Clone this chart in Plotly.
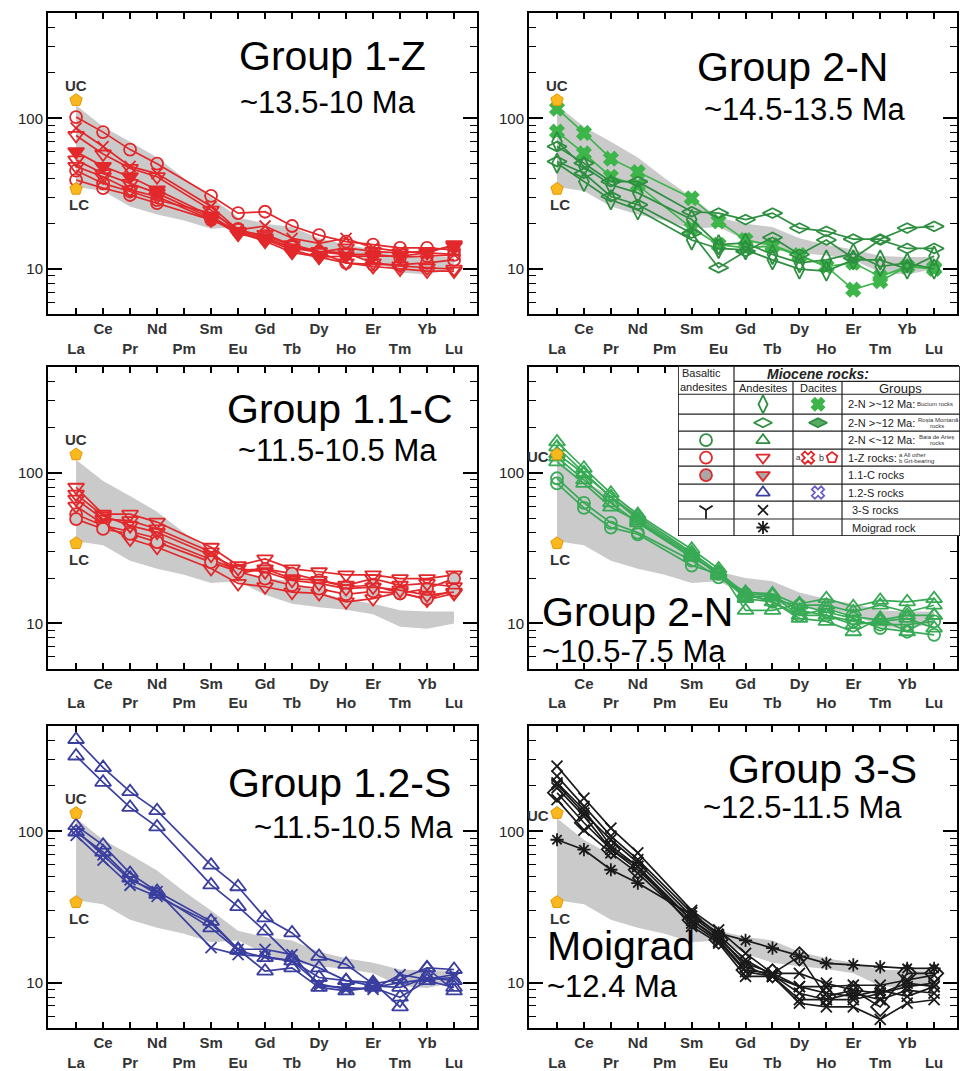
import math
import plotly.graph_objects as go

W, H = 960, 1071
FONT = "Liberation Sans"

elements = ["La", "Ce", "Pr", "Nd", "Pm", "Sm", "Eu", "Gd", "Tb", "Dy", "Ho", "Er", "Tm", "Yb", "Lu"]
idx = list(range(len(elements)))
N = None  # Pm not analysed

# Gray reference field
band_upper = [122, 88, 70, 55, 40, 30, 22, 20, 19, 16, 14.5, 13.5, 12.2, 12, 12]
band_lower = [35, 33, 26, 23, 21, 18.5, 19, 15.5, 13.5, 12.8, 12.3, 11.5, 9.5, 9.2, 10]
UC_val, LC_val = 132, 34

# ---------- Group 1-Z (red) ----------
g1z_values = [
    [102, 81, 62, 50, N, 30.6, 23.5, 24, 19.3, 16.8, 15.2, 14.5, 13.8, 13.8, 13.4],
    [86, 65, 48, 43, N, 26, 18.2, 19.3, 16, 14.8, 16, 13.8, 13.1, 12.8, 12.5],
    [77, 58, 46.6, 41, N, 24.6, 17.5, 17, 14.5, 13.1, 12.8, 11, 10.5, 10.2, 10],
    [60, 48, 41, 33.5, N, 22.5, 17.5, 15.3, 12.9, 12, 12.2, 12.2, 12.2, 12.8, 14.5],
    [53, 43, 37, 31.9, N, 21.8, 17, 16.1, 13.8, 12.9, 13.8, 13.1, 12.8, 13.1, 14.2],
    [39, 34.4, 31, 27.4, N, 21.2, 18.2, 16.5, 14.4, 12.9, 11, 10.7, 10.7, 11, 11.5],
    [48, 41, 33.5, 30.3, N, 21.2, 17.8, 15.7, 13.4, 12, 11, 10.4, 10, 9.7, 9.7],
    [45, 37, 32.7, 28.7, N, 23.5, 18.5, 16, 14, 13, 12.5, 12.5, 12, 12.2, 12.4],
]
g1z_symbols = ["circle-open", "x-thin-open", "triangle-down-open", "triangle-down",
               "triangle-down-open", "circle-open", "triangle-down-open", "circle-open"]

# ---------- Group 2-N old (green) ----------
g2n_old_values = [
    [116, 80, 54, 44, N, 29.5, 20.7, 15.6, 14.4, 12.4, 10.4, 7.3, 8.3, 10.4, 10.2],
    [81.6, 58.6, 41, 36, N, 18.7, 14.5, 13.8, 14.2, 12.2, 10.4, 11, 8.9, 10.4, 10],
    [65, 50.4, 38, 38, N, 24, 23.5, 21.3, 23.5, 18.7, 17.8, 15.8, 15.8, 18.7, 19.2],
    [51.7, 43.2, 30.3, 26.7, N, 17.3, 10.2, 13.1, 16.2, 12.5, 15.6, 11.8, 15.6, 13.7, 13.7],
    [50.4, 38, 28.8, 24.7, N, 15.6, 13.7, 13.4, 11.5, 10, 9.7, 11.5, 11.5, 10, 12.2],
    [70, 47.9, 36.2, 32, N, 21.3, 14.5, 14.9, 12.5, 11, 11.5, 12.7, 10.4, 11, 10],
]
g2n_old_symbols = ["x", "x", "diamond-wide-open", "diamond-wide-open",
                   "diamond-tall-open", "diamond-tall-open"]

# ---------- Group 1.1-C (red, gray-filled) ----------
g11c_values = [
    [80, 53, 53, 47, N, 32, 24.2, 26.8, 23, 22, 21, 21, 19.8, 19.8, 21],
    [53, 44.5, 40.7, 36.7, N, 26.5, 22.5, 23, 21.4, 19.3, 17.5, 17.9, 15.8, 17, 19.8],
    [66.7, 49.2, 48, 42.3, N, 29.8, 21.4, 23, 19.8, 19.3, 17.9, 19.8, 17.9, 18.4, 17.5],
    [60, 45.6, 36.3, 32, N, 23.1, 18.4, 17.5, 16.1, 15.8, 13.9, 14.6, 16.1, 14.3, 15.8],
    [49.2, 42.3, 39.3, 34.6, N, 25.5, 22, 19.8, 17.9, 17, 15.6, 16.3, 15.8, 14.6, 16.6],
    [72, 51.8, 44.5, 40.2, N, 28.3, 23.1, 22, 19.3, 18.4, 17, 17.4, 16.6, 15.4, 16.1],
]
g11c_symbols = ["triangle-down-open", "circle", "triangle-down-open",
                "triangle-down-open", "circle", "triangle-down-open"]

# ---------- Group 2-N young (green) ----------
g2n_young_values = [
    [160, 107, 73, 52.7, N, 31, 23, 12.2, 12.2, 13.5, 14.6, 12.9, 14.2, 13.9, 14.6],
    [134, 98, 69, 49, N, 28.8, 20.8, 16.1, 15.7, 13.2, 13.2, 11.9, 13.2, 11.9, 13.2],
    [91.8, 63, 46.5, 40, N, 26.1, 20.2, 15.3, 14.2, 13.2, 11.9, 10.8, 9.3, 8.8, 8.4],
    [85, 58.4, 43.2, 39, N, 24.2, 21.3, 15.7, 13.9, 11.3, 11.3, 10.3, 9.8, 9.8, 10.3],
    [118, 85, 59, 47.6, N, 28, 21.3, 14.6, 13.9, 10.8, 10.3, 8.8, 10.8, 8.8, 11.3],
    [127, 89.5, 63, 46.5, N, 27.4, 21.9, 14.9, 15.3, 11.3, 12.5, 11.1, 10.5, 11.3, 11.3],
    [148, 100, 69, 51, N, 29.5, 21.9, 15.7, 15.3, 12.2, 11.3, 9.8, 10.3, 10.8, 9.3],
]
g2n_young_symbols = ["triangle-up-open", "triangle-up-open", "circle-open", "circle-open",
                     "triangle-up-open", "triangle-up-open", "triangle-up-open"]

# ---------- Group 1.2-S (blue) ----------
g12s_values = [
    [405, 264, 183, 137, N, 59.8, 43, 26.8, 21.3, 14.9, 13.2, 9.8, 10.5, 12.5, 12.2],
    [315, 211, 144, 107, N, 44.2, 31.8, 21.9, 14.6, 12.5, 10.3, 10, 6.9, 12.5, 8.8],
    [109, 81, 52.7, 40, N, 25.4, 16.6, 11.9, 12.5, 9.3, 8.8, 9.3, 8.0, 10.3, 9.3],
    [94, 64.6, 44, 37.1, N, 24.7, 16.6, 16.6, 15.3, 9.5, 9.3, 9.0, 11.3, 10.5, 10.8],
    [101.5, 70, 47.7, 40, N, 17, 15.3, 14.9, 13.9, 9.8, 9.0, 9.3, 10, 10.5, 11.3],
    [99, 73, 49, 38.3, N, 23, 16.3, 14.6, 13.9, 10.8, 10.3, 9.5, 9.3, 10.8, 10.3],
]
g12s_symbols = ["triangle-up-open", "triangle-up-open", "triangle-up-open",
                "x-thin-open", "x-thin-open", "triangle-up-open"]

# ---------- Group 3-S and Moigrad (black) ----------
g3s_values = [
    [270, 166, 105, 72, N, 30, 22.3, 15.6, 11.5, 9.4, 9.4, 9.6, 9.6, 10.4, 11.2],
    [232, 146, 93, 65, N, 29, 20.7, 14.1, 11.2, 8.5, 7.7, 8.5, 7.7, 8.9, 8.5],
    [204, 132, 88, 62, N, 27.4, 20.2, 12.7, 11, 7.3, 6.9, 6.9, 5.7, 7.3, 7.7],
    [180, 114, 76, 55.7, N, 25.9, 19.2, 12.1, 11.5, 14.9, 8.1, 8.9, 6.9, 11.5, 11.5],
    [162, 102, 72, 53, N, 24.7, 18.7, 11.8, 11, 9.4, 8.5, 8.1, 8.9, 8.1, 9.4],
    [209, 139, 80, 58.7, N, 25.9, 19.6, 13.4, 11.5, 11.5, 9.9, 8.9, 8.5, 9.4, 9.9],
    [194, 126, 76, 58.7, N, 23.5, 18.2, 11, 11, 7.7, 7.7, 7.7, 8.5, 9.9, 9.4],
    [88, 75.6, 55.7, 45.5, N, 28, 21.2, 19, 16.9, 14.9, 13.4, 13.1, 12.7, 12.4, 12.4],
]
g3s_symbols = ["x-thin-open", "x-thin-open", "x-thin-open", "diamond-open",
               "x-thin-open", "x-thin-open", "x-thin-open", "asterisk-open"]

RED = "#E2282B"
GREEN_D = "#2E8F40"
GREEN_X = "#3DB54A"
GREEN_Y = "#38AA55"
BLUE = "#3A3E9E"
BLACK = "#1A1A1A"
BAND = "#CACACA"

panels = [
    dict(row=0, col=0, values=g1z_values, symbols=g1z_symbols, color=RED,
         title="Group 1-Z", sub="~13.5-10 Ma", tpos=(332, 56), spos=(328, 103), uc="above"),
    dict(row=0, col=1, values=g2n_old_values, symbols=g2n_old_symbols, color=GREEN_D,
         title="Group 2-N", sub="~14.5-13.5 Ma", tpos=(792, 67), spos=(805, 110), uc="above"),
    dict(row=1, col=0, values=g11c_values, symbols=g11c_symbols, color=RED,
         title="Group 1.1-C", sub="~11.5-10.5 Ma", tpos=(340, 410), spos=(337, 451), uc="above"),
    dict(row=1, col=1, values=g2n_young_values, symbols=g2n_young_symbols, color=GREEN_Y,
         title="Group 2-N", sub="~10.5-7.5 Ma", tpos=(637, 613), spos=(634, 653), uc="left"),
    dict(row=2, col=0, values=g12s_values, symbols=g12s_symbols, color=BLUE,
         title="Group 1.2-S", sub="~11.5-10.5 Ma", tpos=(339, 784), spos=(353, 829), uc="above"),
    dict(row=2, col=1, values=g3s_values, symbols=g3s_symbols, color=BLACK,
         title="Group 3-S", sub="~12.5-11.5 Ma", tpos=(822, 770), spos=(802, 809), uc="left"),
]

col_dom = [[48 / W, 477 / W], [529 / W, 957 / W]]
row_dom = [[1 - 315 / H, 1 - 13 / H], [1 - 670 / H, 1 - 368 / H], [1 - 1030 / H, 1 - 727 / H]]

ticktext = []
for i, e in enumerate(elements):
    ticktext.append("\u00a0<br><b>" + e + "</b>" if i % 2 == 0 else "<b>" + e + "</b>")

minor_vals = [6, 7, 8, 9, 20, 30, 40, 50, 60, 70, 80, 90, 200, 300, 400]

fig = go.Figure()
layout = dict(width=W, height=H, margin=dict(l=0, r=0, t=0, b=0),
              paper_bgcolor="white", plot_bgcolor="white", showlegend=False)
annotations = []
shapes = []


def mk_size(sym):
    if sym.startswith("circle"):
        return 12
    if sym.startswith("triangle"):
        return 14
    if sym.startswith("diamond"):
        return 14
    if sym == "x":
        return 12
    return 11


for pi, p in enumerate(panels, start=1):
    xa = "x" if pi == 1 else f"x{pi}"
    ya = "y" if pi == 1 else f"y{pi}"
    xk = "xaxis" if pi == 1 else f"xaxis{pi}"
    yk = "yaxis" if pi == 1 else f"yaxis{pi}"
    layout[xk] = dict(domain=col_dom[p["col"]], anchor=ya, range=[-1.04, 14.85],
                      tickmode="array", tickvals=idx, ticktext=ticktext,
                      ticks="inside", ticklen=6, tickwidth=1.5, tickcolor="black",
                      mirror="allticks", showline=True, linewidth=2, linecolor="black",
                      showgrid=False, zeroline=False,
                      tickfont=dict(family=FONT, size=15, color="#333"))
    layout[yk] = dict(domain=row_dom[p["row"]], anchor=xa, type="log",
                      range=[math.log10(5), math.log10(500)],
                      tickmode="array", tickvals=[10, 100], ticktext=["10", "100"],
                      ticks="inside", ticklen=14, tickwidth=1.5, tickcolor="black",
                      minor=dict(tickmode="array", tickvals=minor_vals, ticks="inside",
                                 ticklen=7, tickwidth=1.2, tickcolor="black"),
                      mirror="allticks", showline=True, linewidth=2, linecolor="black",
                      showgrid=False, zeroline=False,
                      tickfont=dict(family=FONT, size=15, color="#222"))
    # gray field
    fig.add_trace(go.Scatter(x=idx + idx[::-1], y=band_upper + band_lower[::-1],
                             fill="toself", fillcolor=BAND, mode="lines",
                             line=dict(width=0, color=BAND), xaxis=xa, yaxis=ya,
                             hoverinfo="skip"))
    # series
    for vals, sym in zip(p["values"], p["symbols"]):
        col = p["color"]
        lcol = col
        if pi == 2 and sym == "x":
            col = GREEN_X
            lcol = GREEN_X
        marker = dict(symbol=sym, size=mk_size(sym), color=col,
                      line=dict(color=col, width=1.8))
        if sym in ("circle", "triangle-down") and pi == 3:
            marker = dict(symbol=sym, size=mk_size(sym), color="#C8C8C8",
                          line=dict(color=RED, width=1.8))
        fig.add_trace(go.Scatter(x=idx, y=vals, mode="lines+markers", connectgaps=True,
                                 line=dict(color=lcol, width=1.7), marker=marker,
                                 xaxis=xa, yaxis=ya))
    # UC / LC
    fig.add_trace(go.Scatter(x=[0, 0], y=[UC_val, LC_val], mode="markers",
                             marker=dict(symbol="pentagon", size=13, color="#F9B81E",
                                         line=dict(color="#E89600", width=1)),
                             xaxis=xa, yaxis=ya))
    if p["uc"] == "above":
        annotations.append(dict(x=0, y=math.log10(UC_val), xref=xa, yref=ya, text="<b>UC</b>",
                                showarrow=False, yshift=15, font=dict(family=FONT, size=15, color="#333")))
    else:
        annotations.append(dict(x=0, y=math.log10(UC_val), xref=xa, yref=ya, text="<b>UC</b>",
                                showarrow=False, xshift=-19, yshift=-2, font=dict(family=FONT, size=15, color="#333")))
    annotations.append(dict(x=0, y=math.log10(LC_val), xref=xa, yref=ya, text="<b>LC</b>",
                            showarrow=False, yshift=-16, xshift=3, font=dict(family=FONT, size=15, color="#333")))
    # titles
    annotations.append(dict(x=p["tpos"][0] / W, y=1 - p["tpos"][1] / H, xref="paper", yref="paper",
                            text=p["title"], showarrow=False, xanchor="center", yanchor="middle",
                            font=dict(family=FONT, size=41, color="black")))
    annotations.append(dict(x=p["spos"][0] / W, y=1 - p["spos"][1] / H, xref="paper", yref="paper",
                            text=p["sub"], showarrow=False, xanchor="center", yanchor="middle",
                            font=dict(family=FONT, size=31, color="black")))

annotations.append(dict(x=621 / W, y=1 - 973 / H, xref="paper", yref="paper", text="Moigrad",
                        showarrow=False, font=dict(family=FONT, size=41, color="black")))
annotations.append(dict(x=612 / W, y=1 - 1008 / H, xref="paper", yref="paper", text="~12.4 Ma",
                        showarrow=False, font=dict(family=FONT, size=31, color="black")))

# ---------- legend table (own hidden axes, pixel units) ----------
layout["xaxis7"] = dict(domain=[678 / W, 1.0], anchor="y7", range=[0, 282], visible=False, fixedrange=True)
layout["yaxis7"] = dict(domain=[1 - 537 / H, 1 - 367 / H], anchor="x7", range=[170, 0], visible=False, fixedrange=True)

shapes.append(dict(type="rect", xref="x7", yref="y7", x0=0, x1=282, y0=0, y1=170,
                   fillcolor="white", line=dict(color="black", width=1.5), layer="below"))
row_lines = [28, 48, 65, 83, 100, 118, 135, 153]
for yl in row_lines:
    shapes.append(dict(type="line", xref="x7", yref="y7", x0=0, x1=282, y0=yl, y1=yl,
                       line=dict(color="#222", width=1.2), layer="below"))
shapes.append(dict(type="line", xref="x7", yref="y7", x0=56, x1=282, y0=15, y1=15,
                   line=dict(color="#222", width=1.2), layer="below"))
shapes.append(dict(type="line", xref="x7", yref="y7", x0=56, x1=56, y0=0, y1=170,
                   line=dict(color="#222", width=1.2), layer="below"))
for xl in (115, 164):
    shapes.append(dict(type="line", xref="x7", yref="y7", x0=xl, x1=xl, y0=15, y1=170,
                       line=dict(color="#222", width=1.2), layer="below"))

row_c = [38, 56.5, 74, 91.5, 109, 126.5, 144, 161.5]
leg_items = [
    # (x, row, symbol, fill, outline, size)
    (85, 0, "diamond-tall-open", GREEN_D, GREEN_D, 13),
    (140, 0, "x", GREEN_X, GREEN_X, 11),
    (85, 1, "diamond-wide-open", GREEN_D, GREEN_D, 13),
    (140, 1, "diamond-wide", "#5BAA63", GREEN_D, 13),
    (28, 2, "circle-open", GREEN_D, GREEN_D, 12),
    (85, 2, "triangle-up-open", GREEN_D, GREEN_D, 12),
    (28, 3, "circle-open", RED, RED, 12),
    (85, 3, "triangle-down-open", RED, RED, 12),
    (130, 3, "x-open", RED, RED, 11),
    (154, 3, "pentagon-open", RED, RED, 11),
    (28, 4, "circle", "#A8A8A8", RED, 12),
    (85, 4, "triangle-down", "#A8A8A8", RED, 12),
    (85, 5, "triangle-up-open", BLUE, BLUE, 12),
    (140, 5, "x-open", "#6A5FC8", "#6A5FC8", 11),
    (28, 6, "y-down-open", BLACK, BLACK, 11),
    (85, 6, "x-thin-open", BLACK, BLACK, 10),
    (85, 7, "asterisk-open", BLACK, BLACK, 11),
]
for (lx, r, sym, fill, outl, sz) in leg_items:
    fig.add_trace(go.Scatter(x=[lx], y=[row_c[r]], mode="markers", xaxis="x7", yaxis="y7",
                             marker=dict(symbol=sym, size=sz, color=fill if not sym.endswith("open") else outl,
                                         line=dict(color=outl, width=1.8)),
                             hoverinfo="skip"))

lf = dict(family=FONT, size=11, color="#222")
sf = dict(family=FONT, size=6, color="#333")
leg_text = [
    (2, 7, "Basaltic", "left", lf),
    (0, 21, "andesites", "left", lf),
    (140, 8, "<b><i>Miocene rocks:</i></b>", "center", dict(family=FONT, size=14, color="#222")),
    (85, 22, "Andesites", "center", lf),
    (140, 22, "Dacites", "center", lf),
    (222, 22, "Groups", "center", dict(family=FONT, size=13, color="#222")),
    (168, row_c[0], "2-N >~12 Ma:", "left", lf),
    (168, row_c[1], "2-N >~12 Ma:", "left", lf),
    (168, row_c[2], "2-N <~12 Ma:", "left", lf),
    (168, row_c[3], "1-Z rocks:", "left", lf),
    (168, row_c[4], "1.1-C rocks", "left", lf),
    (168, row_c[5], "1.2-S rocks", "left", lf),
    (172, row_c[6], "3-S rocks", "left", lf),
    (172, row_c[7], "Moigrad rock", "left", lf),
    (237, row_c[0], "Bucium rocks", "left", sf),
    (238, row_c[1] - 3, "Roșia Montană", "left", sf),
    (250, row_c[1] + 3, "rocks", "left", sf),
    (239, row_c[2] - 3, "Baia de Arieș", "left", sf),
    (250, row_c[2] + 3, "rocks", "left", sf),
    (219, row_c[3] - 3, "a All other", "left", sf),
    (219, row_c[3] + 3, "b Grt-bearing", "left", sf),
    (120, row_c[3], "a", "center", dict(family=FONT, size=8, color="#333")),
    (143, row_c[3], "b", "center", dict(family=FONT, size=9, color="#333")),
]
for (tx, ty, t, anc, f) in leg_text:
    annotations.append(dict(x=tx, y=ty, xref="x7", yref="y7", text=t, showarrow=False,
                            xanchor=anc, yanchor="middle", font=f))

layout["annotations"] = annotations
layout["shapes"] = shapes
fig.update_layout(**layout)
fig.write_html("out.html")
